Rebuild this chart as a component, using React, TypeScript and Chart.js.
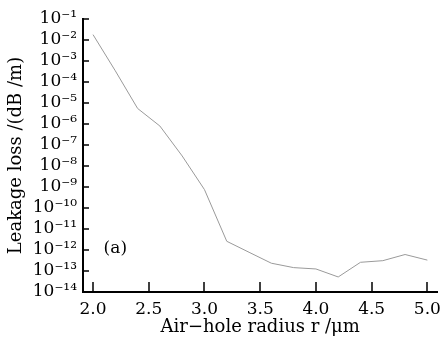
import React, { useEffect, useRef } from 'react';
import { Chart, registerables } from 'chart.js';

Chart.register(...registerables);

const radius = [2.0, 2.2, 2.4, 2.6, 2.8, 3.0, 3.2, 3.4, 3.6, 3.8, 4.0, 4.2, 4.4, 4.6, 4.8, 5.0];
const leakageLoss = [
  1.8e-2, 3.4e-4, 5.5e-6, 8.0e-7, 3.0e-8, 7.5e-10, 2.6e-12, 7.8e-13,
  2.35e-13, 1.45e-13, 1.25e-13, 5.2e-14, 2.6e-13, 3.1e-13, 6.1e-13, 3.3e-13,
];

const xTickValues = [2.0, 2.5, 3.0, 3.5, 4.0, 4.5, 5.0];
const xTickLabels = ['2.0', '2.5', '3.0', '3.5', '4.0', '4.5', '5.0'];
const yTickValues = [1e-1, 1e-2, 1e-3, 1e-4, 1e-5, 1e-6, 1e-7, 1e-8, 1e-9, 1e-10, 1e-11, 1e-12, 1e-13, 1e-14];
const yTickLabels = [
  '10⁻¹', '10⁻²', '10⁻³', '10⁻⁴', '10⁻⁵', '10⁻⁶', '10⁻⁷',
  '10⁻⁸', '10⁻⁹', '10⁻¹⁰', '10⁻¹¹', '10⁻¹²', '10⁻¹³', '10⁻¹⁴',
];

const xTitle = 'Air−hole radius r /μm';
const yTitle = 'Leakage loss /(dB /m)';
const panelLabel = '(a)';
const panelAnchor = { x: 2.2, y: 1.2e-12 };

const FONT = '"DejaVu Serif", "Liberation Serif", serif';

const inwardTicks = {
  id: 'inwardTicks',
  afterDraw(chart: any) {
    const { ctx, chartArea, scales } = chart;
    const xs = scales.x;
    const ys = scales.y;
    ctx.save();
    ctx.strokeStyle = '#000';
    ctx.lineWidth = 1.5;
    ctx.beginPath();
    yTickValues.forEach((v) => {
      if (v === yTickValues[yTickValues.length - 1]) return;
      const py = Math.round(ys.getPixelForValue(v));
      ctx.moveTo(chartArea.left, py);
      ctx.lineTo(chartArea.left + 6, py);
    });
    xTickValues.forEach((v) => {
      const px = Math.round(xs.getPixelForValue(v));
      ctx.moveTo(px, chartArea.bottom);
      ctx.lineTo(px, chartArea.bottom - 10);
    });
    ctx.stroke();
    ctx.font = `17px ${FONT}`;
    ctx.fillStyle = '#000';
    ctx.textAlign = 'center';
    ctx.textBaseline = 'middle';
    ctx.fillText(panelLabel, xs.getPixelForValue(panelAnchor.x), ys.getPixelForValue(panelAnchor.y));
    ctx.restore();
  },
};

export default function App() {
  const ref = useRef<HTMLCanvasElement>(null);

  useEffect(() => {
    if (!ref.current) return;
    const chart = new Chart(ref.current, {
      type: 'line',
      data: {
        datasets: [
          {
            data: radius.map((r, i) => ({ x: r, y: leakageLoss[i] })),
            borderColor: '#9a9a9a',
            borderWidth: 1,
            pointRadius: 0,
            tension: 0,
            fill: false,
          },
        ],
      },
      options: {
        animation: false,
        responsive: false,
        devicePixelRatio: 1,
        layout: { padding: { top: 19, right: 4, left: 0, bottom: 0 } },
        plugins: { legend: { display: false }, tooltip: { enabled: false } },
        scales: {
          x: {
            type: 'linear',
            min: 1.91,
            max: 5.09,
            afterBuildTicks: (s: any) => {
              s.ticks = xTickValues.map((v) => ({ value: v }));
            },
            afterFit: (s: any) => {
              s.height = 56;
            },
            grid: { display: false, drawTicks: false },
            border: { display: true, color: '#000', width: 2 },
            ticks: {
              autoSkip: false,
              maxRotation: 0,
              padding: 7,
              color: '#000',
              font: { family: FONT, size: 17 },
              callback: (v: any) => {
                const i = xTickValues.findIndex((t) => Math.abs(t - Number(v)) < 1e-9);
                return i >= 0 ? xTickLabels[i] : '';
              },
            },
            title: {
              display: true,
              text: xTitle,
              color: '#000',
              font: { family: FONT, size: 18 },
              padding: { top: 0, bottom: 10 },
            },
          },
          y: {
            type: 'logarithmic',
            min: 1e-14,
            max: 1e-1,
            afterBuildTicks: (s: any) => {
              s.ticks = yTickValues.map((v) => ({ value: v }));
            },
            afterFit: (s: any) => {
              s.width = 83;
            },
            grid: { display: false, drawTicks: false },
            border: { display: true, color: '#000', width: 2 },
            ticks: {
              autoSkip: false,
              padding: 6,
              color: '#000',
              font: { family: FONT, size: 17 },
              callback: (v: any) => {
                const i = yTickValues.findIndex((t) => Math.abs(Math.log10(t) - Math.log10(Number(v))) < 1e-6);
                return i >= 0 ? yTickLabels[i] : '';
              },
            },
            title: {
              display: true,
              text: yTitle,
              color: '#000',
              font: { family: FONT, size: 18 },
              padding: { top: 6, bottom: 0 },
            },
          },
        },
      },
      plugins: [inwardTicks],
    });
    return () => chart.destroy();
  }, []);

  return (
    <div style={{ position: 'absolute', left: 0, top: 0, width: 448, height: 348, background: '#fff' }}>
      <canvas ref={ref} width={448} height={348} />
    </div>
  );
}
